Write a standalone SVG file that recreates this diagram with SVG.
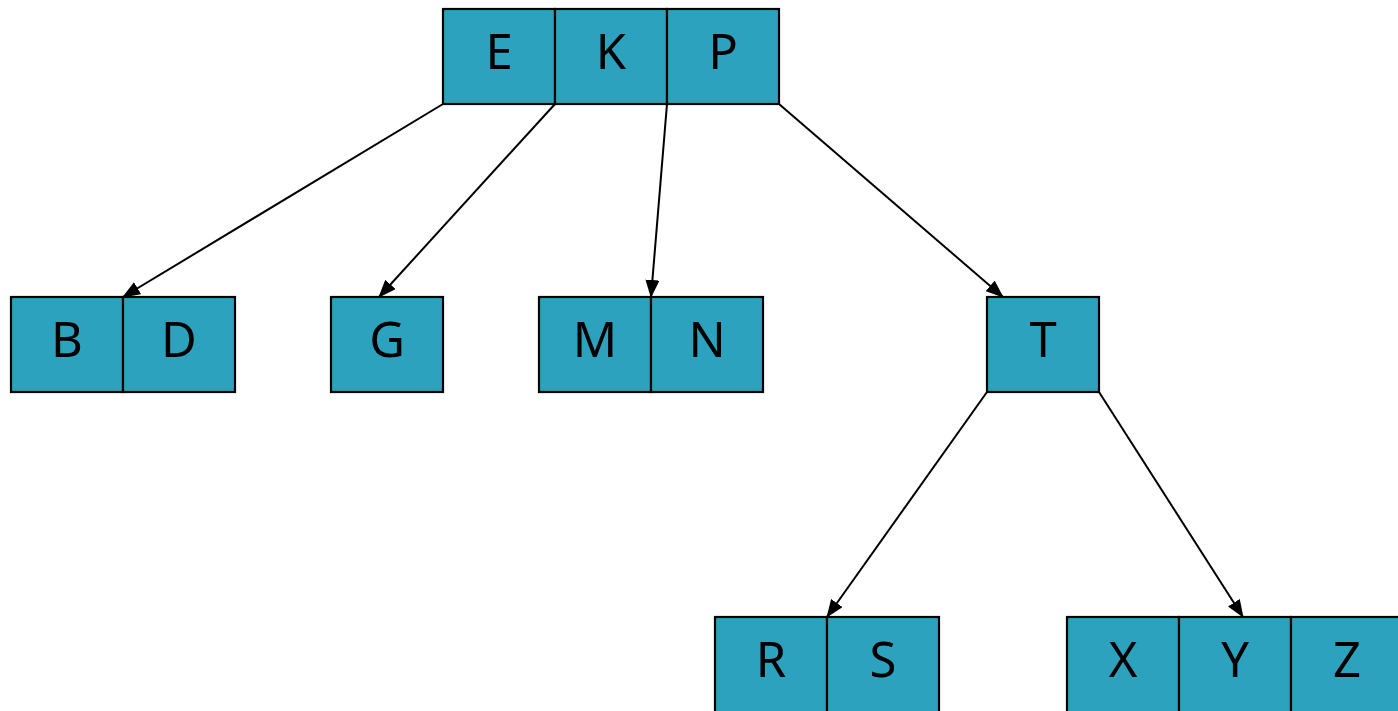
<svg xmlns="http://www.w3.org/2000/svg" width="1398" height="711" viewBox="0 0 1398 711">
  <style>
    .cell { fill: #2ca2bf; stroke: #000; stroke-width: 2.2; }
    .lbl { font-family: "Noto Sans", "Open Sans", "Liberation Sans", sans-serif; font-size: 49px; fill: #000; text-anchor: middle; }
    .edge { stroke: #000; stroke-width: 2; fill: none; marker-end: url(#arrow); }
  </style>
  <defs>
    <!-- filled triangular arrowhead, tip at the end of the line -->
    <marker id="arrow" viewBox="0 0 18 14" refX="17" refY="7" markerWidth="18" markerHeight="14" markerUnits="userSpaceOnUse" orient="auto">
      <path d="M0,0 L18,7 L0,14 z" fill="#000"/>
    </marker>
  </defs>
  <rect width="1398" height="711" fill="#fff"/>

  <g id="connectors">
    <line class="edge" x1="443" y1="104" x2="123" y2="297"/>
    <line class="edge" x1="555" y1="104" x2="379" y2="297"/>
    <line class="edge" x1="667" y1="104" x2="651" y2="297"/>
    <line class="edge" x1="779" y1="104" x2="1003" y2="297"/>
    <line class="edge" x1="987" y1="392" x2="827" y2="617"/>
    <line class="edge" x1="1099" y1="392" x2="1243" y2="617"/>
  </g>

  <g id="node-EKP">
    <rect class="cell" x="443" y="9" width="112" height="95"/>
    <rect class="cell" x="555" y="9" width="112" height="95"/>
    <rect class="cell" x="667" y="9" width="112" height="95"/>
    <text class="lbl" x="499" y="69">E</text>
    <text class="lbl" x="611" y="69">K</text>
    <text class="lbl" x="723" y="69">P</text>
  </g>

  <g id="node-BD">
    <rect class="cell" x="11" y="297" width="112" height="95"/>
    <rect class="cell" x="123" y="297" width="112" height="95"/>
    <text class="lbl" x="67" y="357">B</text>
    <text class="lbl" x="179" y="357">D</text>
  </g>

  <g id="node-G">
    <rect class="cell" x="331" y="297" width="112" height="95"/>
    <text class="lbl" x="387" y="357">G</text>
  </g>

  <g id="node-MN">
    <rect class="cell" x="539" y="297" width="112" height="95"/>
    <rect class="cell" x="651" y="297" width="112" height="95"/>
    <text class="lbl" x="595" y="357">M</text>
    <text class="lbl" x="707" y="357">N</text>
  </g>

  <g id="node-T">
    <rect class="cell" x="987" y="297" width="112" height="95"/>
    <text class="lbl" x="1043" y="357">T</text>
  </g>

  <g id="node-RS">
    <rect class="cell" x="715" y="617" width="112" height="96"/>
    <rect class="cell" x="827" y="617" width="112" height="96"/>
    <text class="lbl" x="771" y="677">R</text>
    <text class="lbl" x="883" y="677">S</text>
  </g>

  <g id="node-XYZ">
    <rect class="cell" x="1067" y="617" width="112" height="96"/>
    <rect class="cell" x="1179" y="617" width="112" height="96"/>
    <rect class="cell" x="1291" y="617" width="112" height="96"/>
    <text class="lbl" x="1123" y="677">X</text>
    <text class="lbl" x="1235" y="677">Y</text>
    <text class="lbl" x="1347" y="677">Z</text>
  </g>
</svg>
